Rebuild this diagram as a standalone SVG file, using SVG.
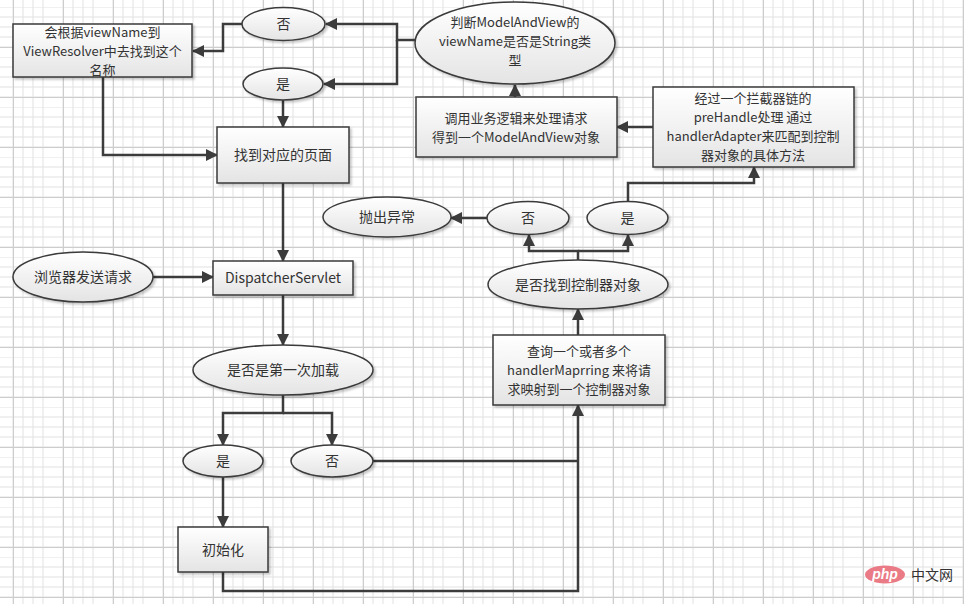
<svg xmlns="http://www.w3.org/2000/svg" width="964" height="604" viewBox="0 0 964 604">
<defs>
  <pattern id="grid" patternUnits="userSpaceOnUse" x="3" y="7" width="50" height="50">
    <rect width="50" height="50" fill="#ffffff"/>
    <path d="M10,0 V50 M20,0 V50 M30,0 V50 M40,0 V50 M0,0 H50 M0,10 H50 M0,20 H50 M0,30 H50 M0,40 H50" stroke="#e2e2e2" stroke-width="1" fill="none"/>
  </pattern>
  <pattern id="gridMajor" patternUnits="userSpaceOnUse" x="13" y="47" width="50" height="50">
    <path d="M0.5,0 V50 M0,0.5 H50" stroke="#cdcdcd" stroke-width="1" fill="none"/>
  </pattern>
  <linearGradient id="fill" x1="0" y1="0" x2="0" y2="1">
    <stop offset="0" stop-color="#ffffff"/>
    <stop offset="1" stop-color="#e4e4e4"/>
  </linearGradient>
  <filter id="shadow" x="-10%" y="-10%" width="130%" height="140%">
    <feDropShadow dx="2" dy="2" stdDeviation="1.2" flood-color="#000000" flood-opacity="0.22"/>
  </filter>
  <marker id="arrow" markerUnits="userSpaceOnUse" markerWidth="12" markerHeight="12" viewBox="0 0 12 12" refX="11" refY="6" orient="auto">
    <path d="M0,0 L12,6 L0,12 z" fill="#3c3c3c"/>
  </marker>
</defs>
<style>
  .shape { fill: url(#fill); stroke: #3a3a3a; stroke-width: 1.5; filter: url(#shadow); }
  .t { font-family: "Noto Sans CJK SC", "Noto Sans", sans-serif; font-size: 14px; fill: #333333; text-anchor: middle; }
  .m { font-size: 13px; }
  .c { fill: none; stroke: #3c3c3c; stroke-width: 2.5; }
  .a { marker-end: url(#arrow); }
</style>
<rect width="964" height="604" fill="url(#grid)"/>
<rect width="964" height="604" fill="url(#gridMajor)"/>

<g id="connectors">
  <path class="c a" d="M415,40 H397 V24 H326"/>
  <path class="c a" d="M397,40 V84 H324"/>
  <path class="c a" d="M242,24 H223 V51 H193"/>
  <path class="c a" d="M283,100 V127"/>
  <path class="c a" d="M103,77 V155 H217"/>
  <path class="c a" d="M283,183 V261"/>
  <path class="c a" d="M153,277 H213"/>
  <path class="c a" d="M283,295 V345"/>
  <path class="c a" d="M283,395 V413 H223 V445"/>
  <path class="c a" d="M283,413 H332 V445"/>
  <path class="c a" d="M223,477 V527"/>
  <path class="c" d="M373,461 H578"/>
  <path class="c a" d="M223,572 V591 H578 V405"/>
  <path class="c a" d="M578,335 V309"/>
  <path class="c a" d="M578,260 V251 H529 V235"/>
  <path class="c a" d="M578,251 H628 V235"/>
  <path class="c a" d="M487,218 H451"/>
  <path class="c a" d="M628,202 V183 H754 V167"/>
  <path class="c a" d="M653,127 H617"/>
  <path class="c a" d="M515,97 V85"/>
</g>

<g id="viewResolver">
  <rect class="shape" x="13" y="24" width="179" height="53"/>
  <text class="t m" x="102.5" y="37">会根据viewName到</text>
  <text class="t m" x="102.5" y="56">ViewResolver中去找到这个</text>
  <text class="t m" x="102.5" y="75">名称</text>
</g>
<g id="no1">
  <ellipse class="shape" cx="283.5" cy="24" rx="41.5" ry="16.5"/>
  <text class="t" x="283.5" y="29">否</text>
</g>
<g id="yes1">
  <ellipse class="shape" cx="283" cy="84" rx="40" ry="16"/>
  <text class="t" x="283" y="89">是</text>
</g>
<g id="isString">
  <ellipse class="shape" cx="515" cy="43" rx="100" ry="41"/>
  <text class="t m" x="515" y="27">判断ModelAndView的</text>
  <text class="t m" x="515" y="46">viewName是否是String类</text>
  <text class="t m" x="515" y="65">型</text>
</g>
<g id="findPage">
  <rect class="shape" x="217" y="127" width="132" height="56"/>
  <text class="t" x="283" y="160">找到对应的页面</text>
</g>
<g id="callService">
  <rect class="shape" x="416" y="97" width="201" height="60"/>
  <text class="t m" x="516" y="123">调用业务逻辑来处理请求</text>
  <text class="t m" x="516" y="142">得到一个ModelAndView对象</text>
</g>
<g id="interceptor">
  <rect class="shape" x="653" y="87" width="201" height="80"/>
  <text class="t m" x="753" y="103">经过一个拦截器链的</text>
  <text class="t m" x="753" y="122">preHandle处理 通过</text>
  <text class="t m" x="753" y="141">handlerAdapter来匹配到控制</text>
  <text class="t m" x="753" y="160">器对象的具体方法</text>
</g>
<g id="throwEx">
  <ellipse class="shape" cx="387" cy="217" rx="64" ry="20"/>
  <text class="t" x="387" y="222">抛出异常</text>
</g>
<g id="no2">
  <ellipse class="shape" cx="528" cy="218" rx="41" ry="16.5"/>
  <text class="t" x="528" y="223">否</text>
</g>
<g id="yes2">
  <ellipse class="shape" cx="627.5" cy="218" rx="40.5" ry="16.5"/>
  <text class="t" x="627.5" y="223">是</text>
</g>
<g id="foundController">
  <ellipse class="shape" cx="578" cy="284.5" rx="90" ry="24.5"/>
  <text class="t" x="578" y="290">是否找到控制器对象</text>
</g>
<g id="browser">
  <ellipse class="shape" cx="83" cy="277" rx="70" ry="25"/>
  <text class="t" x="83" y="282">浏览器发送请求</text>
</g>
<g id="dispatcher">
  <rect class="shape" x="213" y="261" width="140" height="34"/>
  <text class="t" x="283" y="283">DispatcherServlet</text>
</g>
<g id="firstLoad">
  <ellipse class="shape" cx="283" cy="370" rx="90" ry="25"/>
  <text class="t" x="283" y="375">是否是第一次加载</text>
</g>
<g id="handlerMapping">
  <rect class="shape" x="493" y="335" width="172" height="70"/>
  <text class="t m" x="579" y="356">查询一个或者多个</text>
  <text class="t m" x="579" y="375">handlerMaprring 来将请</text>
  <text class="t m" x="579" y="394">求映射到一个控制器对象</text>
</g>
<g id="yes3">
  <ellipse class="shape" cx="223" cy="461" rx="40" ry="16"/>
  <text class="t" x="223" y="466">是</text>
</g>
<g id="no3">
  <ellipse class="shape" cx="332" cy="461" rx="41" ry="16"/>
  <text class="t" x="332" y="466">否</text>
</g>
<g id="init">
  <rect class="shape" x="178" y="527" width="90" height="45"/>
  <text class="t" x="223" y="555">初始化</text>
</g>

<g id="watermark">
  <ellipse cx="885" cy="574.5" rx="20" ry="9" fill="#ea7a86"/>
  <text x="885" y="579" font-family="'Liberation Sans', sans-serif" font-size="14" font-style="italic" font-weight="bold" fill="#ffffff" text-anchor="middle">php</text>
  <text x="932" y="580" font-family="'Noto Sans CJK SC', sans-serif" font-size="14" fill="#333333" text-anchor="middle">中文网</text>
</g>
</svg>
